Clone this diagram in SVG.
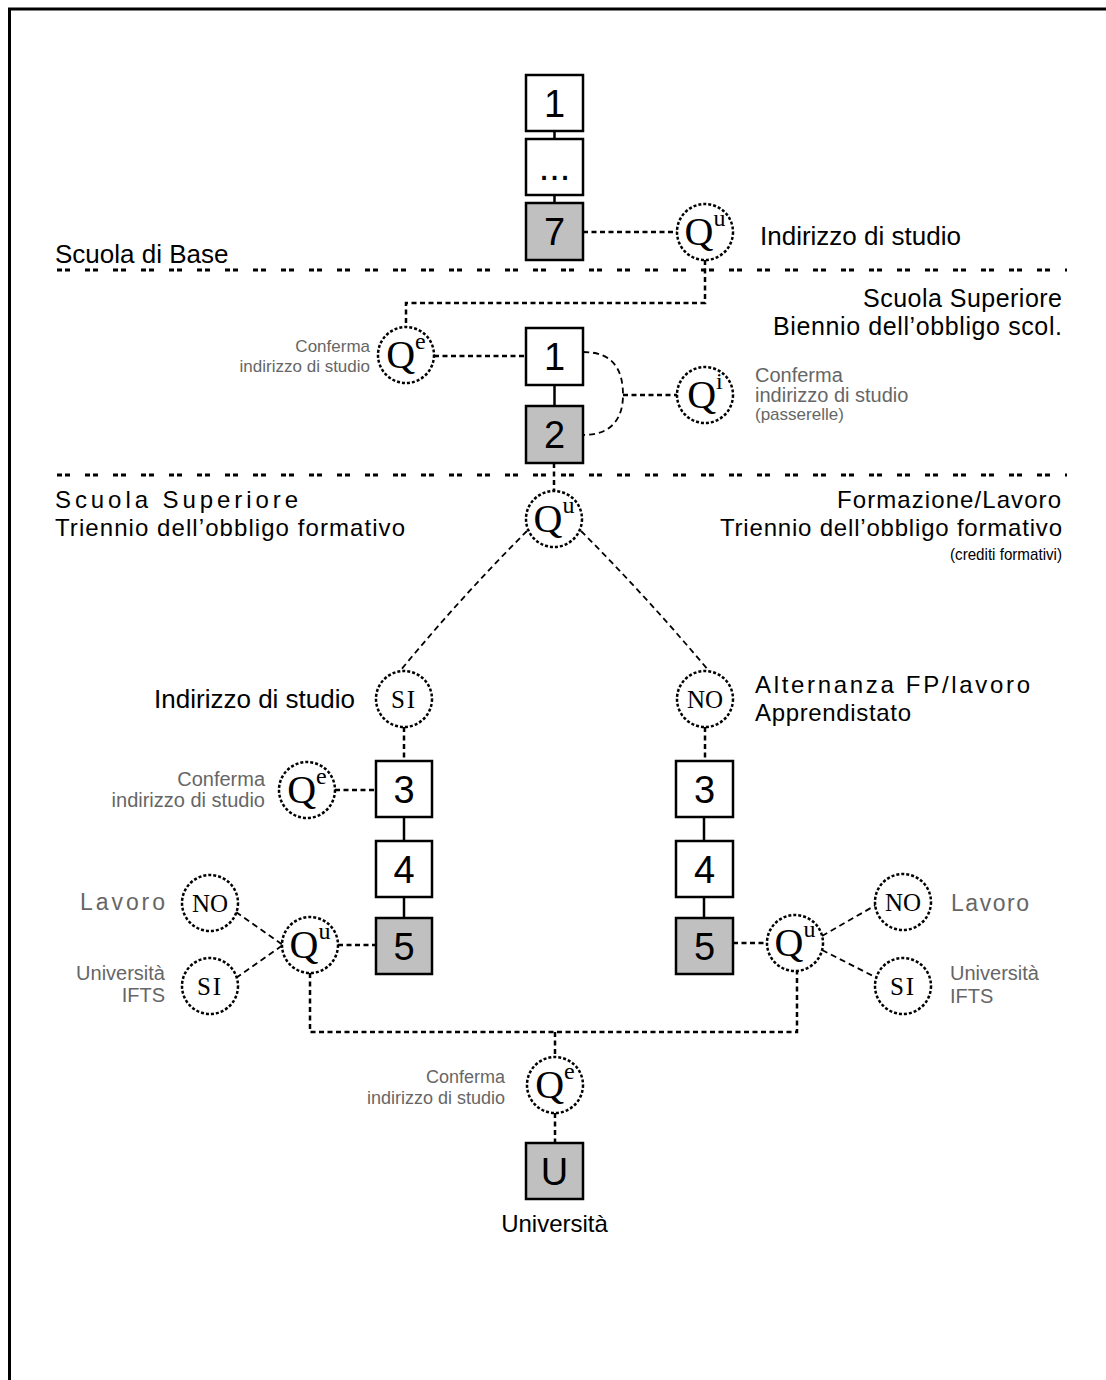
<svg xmlns="http://www.w3.org/2000/svg" width="1106" height="1380" viewBox="0 0 1106 1380">
<style>
.box{fill:#fff;stroke:#000;stroke-width:2.5}
.g{fill:#c0c0c0}
.num{font-family:"Liberation Sans",Arial,sans-serif;font-size:38px;text-anchor:middle;fill:#000}
.circ{fill:#fff;stroke:#000;stroke-width:2.5;stroke-dasharray:3 2}
.q{font-family:"Liberation Serif","Times New Roman",serif;font-size:40px;text-anchor:middle;fill:#000}
.sup{font-size:24px}
.yn{font-family:"Liberation Serif","Times New Roman",serif;font-size:25px;text-anchor:middle;fill:#000}
.conn{stroke:#000;stroke-width:2.5;stroke-dasharray:5 3.5;fill:none}
.thin{stroke-width:1.8;stroke-dasharray:6 4}
.solid{stroke:#000;stroke-width:2.5;fill:none}
.sep{stroke:#000;stroke-width:3;stroke-dasharray:5 3 5 15;fill:none}
.lbl{font-family:"Liberation Sans",Arial,sans-serif;fill:#000}
.sm{font-family:"Liberation Sans",Arial,sans-serif;fill:#666}
.end{text-anchor:end}
</style>
<path d="M9.5,1380 V9 H1106" fill="none" stroke="#000" stroke-width="3"/>
<g id="separators">
<line class="sep" x1="57" y1="270" x2="1067" y2="270"/>
<line class="sep" x1="57" y1="475" x2="1067" y2="475"/>
</g>
<g id="connectors">
<line class="solid" x1="554.5" y1="131" x2="554.5" y2="139"/>
<line class="solid" x1="554.5" y1="195" x2="554.5" y2="203"/>
<line class="solid" x1="554.5" y1="385" x2="554.5" y2="406"/>
<line class="solid" x1="404" y1="817" x2="404" y2="841"/>
<line class="solid" x1="404" y1="897" x2="404" y2="918"/>
<line class="solid" x1="704" y1="817" x2="704" y2="841"/>
<line class="solid" x1="704" y1="897" x2="704" y2="918"/>
<line class="conn" x1="583" y1="232" x2="677" y2="232"/>
<path class="conn" d="M705,260 V303 H406 V327"/>
<line class="conn" x1="434" y1="356" x2="526" y2="356"/>
<path class="conn thin" d="M583,352 C615,352 623,372 623,395 C623,418 612,435 583,435"/>
<line class="conn" x1="623" y1="395" x2="677" y2="395"/>
<line class="conn" x1="554" y1="463" x2="554" y2="491"/>
<path class="conn thin" d="M527,531 Q462,596 400,671"/>
<path class="conn thin" d="M581,531 Q646,596 709,671"/>
<line class="conn" x1="404" y1="727" x2="404" y2="761"/>
<line class="conn" x1="705" y1="727" x2="705" y2="761"/>
<line class="conn" x1="335" y1="790" x2="376" y2="790"/>
<line class="conn" x1="338" y1="945" x2="376" y2="945"/>
<line class="conn thin" x1="236" y1="912" x2="283" y2="945"/>
<line class="conn thin" x1="236" y1="978" x2="283" y2="945"/>
<line class="conn" x1="733" y1="943" x2="767" y2="943"/>
<line class="conn thin" x1="822" y1="936" x2="876" y2="905"/>
<line class="conn thin" x1="822" y1="950" x2="877" y2="978"/>
<path class="conn" d="M310,973 V1032 H797 V971"/>
<line class="conn" x1="555" y1="1032" x2="555" y2="1057"/>
<line class="conn" x1="555" y1="1113" x2="555" y2="1143"/>
</g>
<g id="b1"><rect class="box" x="526" y="75" width="57" height="56"/><text class="num" x="554.5" y="116.5">1</text></g>
<g id="bdots"><rect class="box" x="526" y="139" width="57" height="56"/><text class="num" x="554.5" y="180">...</text></g>
<g id="b7"><rect class="box g" x="526" y="203" width="57" height="57"/><text class="num" x="554.5" y="245">7</text></g>
<g id="qu1"><circle class="circ" cx="705" cy="232" r="28"/><text class="q" x="705" y="245">Q<tspan class="sup" dy="-19">u</tspan></text></g>
<g id="lbl-base"><text class="lbl" x="55" y="263" font-size="26">Scuola di Base</text></g>
<g id="lbl-ind1"><text class="lbl" x="760" y="245" font-size="26">Indirizzo di studio</text></g>
<g id="lbl-biennio"><text class="lbl end" x="1062" y="307" font-size="25" textLength="199" lengthAdjust="spacing">Scuola Superiore</text><text class="lbl end" x="1062" y="335" font-size="25" textLength="289" lengthAdjust="spacing">Biennio dell’obbligo scol.</text></g>
<g id="qe1"><circle class="circ" cx="406" cy="355" r="28"/><text class="q" x="406" y="368">Q<tspan class="sup" dy="-19">e</tspan></text>
<text class="sm end" x="370" y="352" font-size="17">Conferma</text><text class="sm end" x="370" y="372" font-size="17">indirizzo di studio</text></g>
<g id="s1"><rect class="box" x="526" y="328" width="57" height="57"/><text class="num" x="554.5" y="370">1</text></g>
<g id="s2"><rect class="box g" x="526" y="406" width="57" height="57"/><text class="num" x="554.5" y="448">2</text></g>
<g id="qi"><circle class="circ" cx="705" cy="395" r="28"/><text class="q" x="705" y="408">Q<tspan class="sup" dy="-19">i</tspan></text>
<text class="sm" x="755" y="382" font-size="20">Conferma</text><text class="sm" x="755" y="402" font-size="20">indirizzo di studio</text><text class="sm" x="755" y="420" font-size="17">(passerelle)</text></g>
<g id="lbl-triennio-l"><text class="lbl" x="55" y="508" font-size="24" textLength="243" lengthAdjust="spacing">Scuola Superiore</text><text class="lbl" x="55" y="536" font-size="24" textLength="350" lengthAdjust="spacing">Triennio dell’obbligo formativo</text></g>
<g id="lbl-triennio-r"><text class="lbl" x="837" y="508" font-size="24" textLength="224" lengthAdjust="spacing">Formazione/Lavoro</text><text class="lbl" x="720" y="536" font-size="24" textLength="342" lengthAdjust="spacing">Triennio dell’obbligo formativo</text><text class="lbl end" x="1062" y="560" font-size="17" textLength="112" lengthAdjust="spacingAndGlyphs">(crediti formativi)</text></g>
<g id="qu2"><circle class="circ" cx="554" cy="519" r="28"/><text class="q" x="554" y="532">Q<tspan class="sup" dy="-19">u</tspan></text></g>
<g id="si"><circle class="circ" cx="404" cy="699" r="28"/><text class="yn" x="404" y="708" letter-spacing="2">SI</text><text class="lbl end" x="355" y="708" font-size="26">Indirizzo di studio</text></g>
<g id="no"><circle class="circ" cx="705" cy="699" r="28"/><text class="yn" x="705" y="708">NO</text><text class="lbl" x="755" y="693" font-size="24" textLength="275" lengthAdjust="spacing">Alternanza FP/lavoro</text><text class="lbl" x="755" y="721" font-size="24" textLength="156" lengthAdjust="spacing">Apprendistato</text></g>
<g id="qel"><circle class="circ" cx="307" cy="790" r="28"/><text class="q" x="307" y="803">Q<tspan class="sup" dy="-19">e</tspan></text>
<text class="sm end" x="265" y="786" font-size="20">Conferma</text><text class="sm end" x="265" y="807" font-size="20">indirizzo di studio</text></g>
<g id="l3"><rect class="box" x="376" y="761" width="56" height="56"/><text class="num" x="404" y="802.5">3</text></g>
<g id="l4"><rect class="box" x="376" y="841" width="56" height="56"/><text class="num" x="404" y="882.5">4</text></g>
<g id="l5"><rect class="box g" x="376" y="918" width="56" height="56"/><text class="num" x="404" y="959.5">5</text></g>
<g id="r3"><rect class="box" x="676" y="761" width="57" height="56"/><text class="num" x="704.5" y="802.5">3</text></g>
<g id="r4"><rect class="box" x="676" y="841" width="57" height="56"/><text class="num" x="704.5" y="882.5">4</text></g>
<g id="r5"><rect class="box g" x="676" y="918" width="57" height="56"/><text class="num" x="704.5" y="959.5">5</text></g>
<g id="qul"><circle class="circ" cx="310" cy="945" r="28"/><text class="q" x="310" y="958">Q<tspan class="sup" dy="-19">u</tspan></text></g>
<g id="nol"><circle class="circ" cx="210" cy="903" r="28"/><text class="yn" x="210" y="912">NO</text><text class="sm end" x="165" y="910" font-size="23" textLength="85" lengthAdjust="spacing">Lavoro</text></g>
<g id="sil"><circle class="circ" cx="210" cy="986" r="28"/><text class="yn" x="210" y="995" letter-spacing="2">SI</text><text class="sm end" x="165" y="980" font-size="20">Università</text><text class="sm end" x="165" y="1002" font-size="20">IFTS</text></g>
<g id="qur"><circle class="circ" cx="795" cy="943" r="28"/><text class="q" x="795" y="956">Q<tspan class="sup" dy="-19">u</tspan></text></g>
<g id="nor"><circle class="circ" cx="903" cy="902" r="28"/><text class="yn" x="903" y="911">NO</text><text class="sm" x="951" y="911" font-size="23" textLength="78" lengthAdjust="spacing">Lavoro</text></g>
<g id="sir"><circle class="circ" cx="903" cy="986" r="28"/><text class="yn" x="903" y="995" letter-spacing="2">SI</text><text class="sm" x="950" y="980" font-size="20">Università</text><text class="sm" x="950" y="1003" font-size="20">IFTS</text></g>
<g id="qeb"><circle class="circ" cx="555" cy="1085" r="28"/><text class="q" x="555" y="1098">Q<tspan class="sup" dy="-19">e</tspan></text>
<text class="sm end" x="505" y="1083" font-size="18">Conferma</text><text class="sm end" x="505" y="1104" font-size="18">indirizzo di studio</text></g>
<g id="u"><rect class="box g" x="526" y="1143" width="57" height="56"/><text class="num" x="554.5" y="1184.5">U</text><text class="lbl" x="554.5" y="1232" font-size="24" text-anchor="middle">Università</text></g>
</svg>
